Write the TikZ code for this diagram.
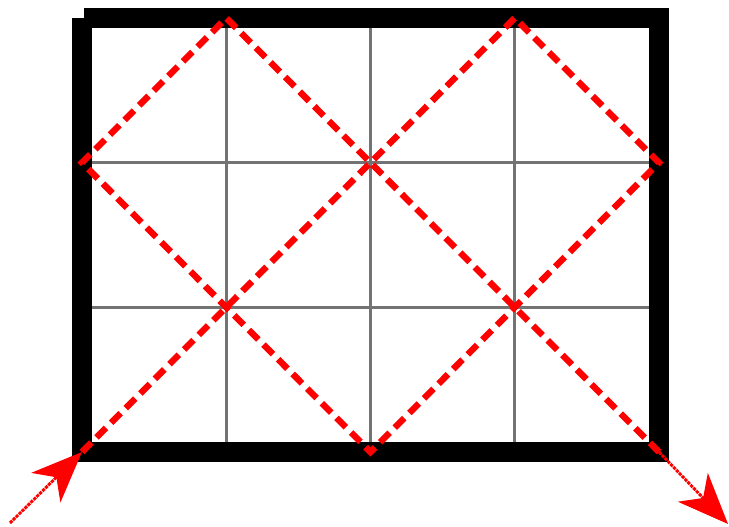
\documentclass[tikz,border=0pt]{standalone}
\usetikzlibrary{arrows.meta}
\begin{document}
\begin{tikzpicture}[x=0.75pt,y=-0.75pt,
  gridline/.style={line width=2.3pt, draw=black!55},
  frameline/.style={line width=15pt, line cap=butt, line join=miter, draw=black},
  ray/.style={draw=red, line width=4.8pt, dash pattern=on 10pt off 5.5pt, line join=miter},
  thinray/.style={draw=red, line width=2.2pt, dash pattern=on 2.4pt off 0.7pt,
    -{Stealth[length=38pt,width=31pt,inset=11pt,sep=0pt]}}]
\useasboundingbox (0,0) rectangle (729,527);
% grid corners
\foreach \i/\x in {0/82,1/226.25,2/370.5,3/514.75,4/659}{
  \foreach \j/\y in {0/452,1/307.3,2/162.7,3/18}{
    \coordinate (p\i\j) at (\x,\y);
  }
}
% inner grid lines
\foreach \i in {1,2,3}{ \draw[gridline] (p\i0) -- (p\i3); }
\foreach \j in {1,2}{ \draw[gridline] (p0\j) -- (p4\j); }
% frame
\draw[frameline] (p03) -- (p00) -- (p40) -- (p43) -- ([xshift=1.5pt]p03);
% ray path
\draw[ray] (p00) -- (p11) -- (p22) -- (p33) -- (p42) -- (p31) -- (p20) -- (p11) -- (p02) -- (p13) -- (p22) -- (p31) -- (p40);
% incoming and outgoing arrows
\coordinate (inStart) at (10,523);
\coordinate (outEnd) at (728,524);
\draw[thinray] (inStart) -- (p00);
\draw[thinray] (p40) -- (outEnd);
\end{tikzpicture}
\end{document}
